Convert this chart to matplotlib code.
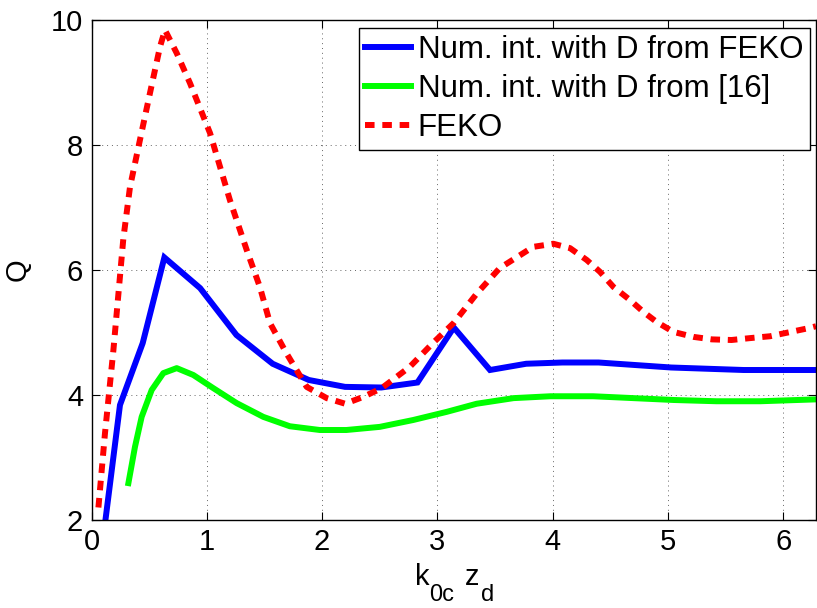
import numpy as np
import matplotlib
matplotlib.use("Agg")
import matplotlib.pyplot as plt

plt.rcParams['font.family'] = ['Liberation Sans', 'DejaVu Sans']

# Num. int. with D from FEKO
x_blue = [0.123, 0.247, 0.444, 0.632, 0.942, 1.257, 1.571, 1.885, 2.199, 2.513,
          2.827, 3.142, 3.456, 3.770, 4.084, 4.398, 4.712, 5.027, 5.341, 5.655,
          5.969, 6.283]
y_blue = [2.03, 3.84, 4.83, 6.20, 5.71, 4.96, 4.50, 4.24, 4.13, 4.12,
          4.20, 5.08, 4.40, 4.50, 4.52, 4.52, 4.48, 4.44, 4.42, 4.40,
          4.40, 4.40]

# Num. int. with D from [16]
x_green = [0.32, 0.377, 0.435, 0.522, 0.623, 0.739, 0.883, 1.056, 1.259, 1.49,
           1.72, 1.98, 2.21, 2.50, 2.79, 3.08, 3.34, 3.66, 3.98, 4.35,
           4.70, 5.05, 5.42, 5.80, 6.283]
y_green = [2.59, 3.17, 3.65, 4.08, 4.35, 4.43, 4.32, 4.11, 3.87, 3.65,
           3.50, 3.44, 3.44, 3.49, 3.60, 3.73, 3.86, 3.95, 3.98, 3.98,
           3.95, 3.92, 3.90, 3.90, 3.93]

# FEKO
x_red = [0.06, 0.117, 0.19, 0.276, 0.334, 0.42, 0.507, 0.594, 0.637, 0.739,
         0.854, 1.028, 1.20, 1.346, 1.46, 1.548, 1.69, 1.866, 2.04, 2.20,
         2.357, 2.517, 2.76, 2.96, 3.14, 3.34, 3.54, 3.83, 4.005, 4.15,
         4.295, 4.41, 4.526, 4.67, 4.786, 4.90, 5.046, 5.22, 5.38, 5.55,
         5.71, 5.885, 6.04, 6.22, 6.283]
y_red = [2.2, 3.39, 4.72, 6.5, 7.33, 8.08, 8.83, 9.57, 9.84, 9.47,
         8.99, 8.19, 7.12, 6.32, 5.73, 5.15, 4.67, 4.13, 3.95, 3.86,
         3.97, 4.11, 4.45, 4.83, 5.15, 5.62, 6.03, 6.37, 6.42, 6.35,
         6.16, 5.97, 5.73, 5.52, 5.33, 5.17, 5.01, 4.93, 4.89, 4.88,
         4.91, 4.94, 5.00, 5.07, 5.10]

labels = ['Num. int. with D from FEKO', 'Num. int. with D from [16]', 'FEKO']
x_ticks = [0, 1, 2, 3, 4, 5, 6]
y_ticks = [2, 4, 6, 8, 10]

W, H = 817, 608
fig = plt.figure(figsize=(W / 100, H / 100), dpi=100)
ax = fig.add_axes([91.5 / W, 1 - 520 / H, (816 - 91.5) / W, 500 / H])

lw = 4.3
ax.plot(x_blue, y_blue, color='#0000ff', lw=lw, label=labels[0], solid_joinstyle='miter')
ax.plot(x_green, y_green, color='#00ff00', lw=lw, label=labels[1])
ax.plot(x_red, y_red, color='#ff0000', lw=lw, label=labels[2],
        linestyle=(0, (1.6, 1.3)), dash_capstyle='butt')

ax.set_xlim(0, 2 * np.pi)
ax.set_ylim(2, 10)
ax.set_xticks(x_ticks)
ax.set_yticks(y_ticks)
ax.tick_params(direction='in', top=True, right=True, labelsize=21, length=6, width=0.8, pad=6)
ax.grid(True, linestyle=(0, (1, 4)), color='#666666', linewidth=0.7)
for s in ax.spines.values():
    s.set_linewidth(1.0)

# x label: k_{0c} z_d with large subscripts
def ftext(px, py, s, size):
    fig.text(px / W, 1 - py / H, s, fontsize=size, ha='left', va='baseline')

ftext(415, 585, 'k', 21)
ftext(429, 601, '0c', 17)
ftext(465, 585, 'z', 21)
ftext(481, 601, 'd', 17)

ax.set_ylabel('Q', fontsize=21, labelpad=14)

leg = ax.legend(loc='upper right', bbox_to_anchor=(810 / W, 1 - 28.3 / H),
                bbox_transform=fig.transFigure, borderaxespad=0,
                fontsize=22.5, frameon=True, fancybox=False,
                edgecolor='black', framealpha=1, handlelength=1.45, handletextpad=0.22,
                borderpad=0.22, labelspacing=0.28)
leg.get_frame().set_linewidth(1.0)

fig.savefig('out.png', dpi=100)
